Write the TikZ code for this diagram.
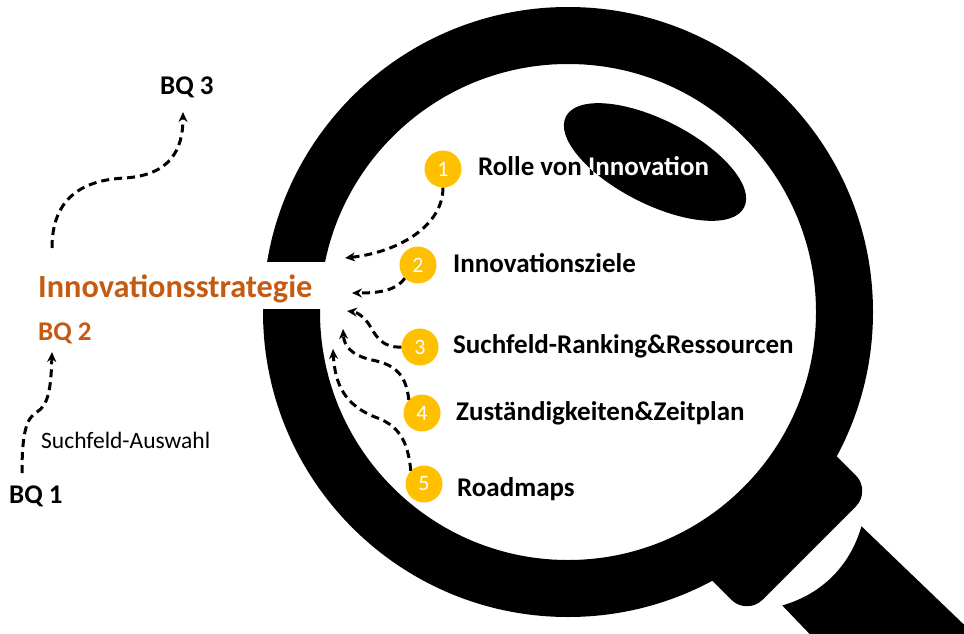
\documentclass[tikz,border=0pt]{standalone}
\usepackage{fontspec}
\setmainfont{Carlito}
\usetikzlibrary{arrows.meta}
\definecolor{accent}{HTML}{C55A11}
\definecolor{badge}{HTML}{FFC000}
\begin{document}
\begin{tikzpicture}[x=1pt,y=-1pt,
  flow/.style={draw=black, line width=3pt, dash pattern=on 8pt off 5pt,
    -{Stealth[length=10pt,width=9pt]}},
  num/.style={circle, fill=badge, minimum size=37pt, inner sep=0pt,
    text=white, font=\fontsize{22}{22}\selectfont},
  item/.style={anchor=base west, inner sep=0pt,
    font=\bfseries\fontsize{27}{27}\selectfont},
  side/.style={anchor=base west, inner sep=0pt,
    font=\fontsize{23.5}{23.5}\selectfont},
  title/.style={anchor=base west, inner sep=0pt, text=accent,
    font=\bfseries\fontsize{32.3}{32.3}\selectfont},
  lens/.style={rotate around={-27:(655,162)}}
]
\useasboundingbox (0,0) rectangle (964,634);
\clip (0,0) rectangle (964,634);

% magnifier ring
\fill[even odd rule] (568,312) circle[radius=305] (568,312) circle[radius=248];
% collar and handle
\begin{scope}[shift={(568,312)}, rotate=-45]
  \fill[rounded corners=22pt] (270,-88) -- (341,-88) -- (341,88) -- (270,88) -- cycle;
  \fill (359,-56) .. controls (379,-20) and (379,20) .. (359,56)
        -- (700,63) -- (700,-63) -- cycle;
\end{scope}
% opening for the title
\fill[white] (255,262) rectangle (336,309);
% glass highlight
\fill[lens] (655,162) ellipse [x radius=100, y radius=42];

% left side labels
\node[item] (bq3) at (160,94) {BQ 3};
\node[title] (strat) at (38,297) {Innovationsstrategie};
\node[item, text=accent] (bq2) at (38,340) {BQ 2};
\node[side] (auswahl) at (41,448) {Suchfeld-Auswahl};
\node[item] (bq1) at (9,503) {BQ 1};

\coordinate (s1) at (22,473);
\coordinate (t1) at (52,352);
\coordinate (s2) at (52,248);
\coordinate (t2) at (183,112);
\draw[flow] (s1) .. controls (22,430) and (27,418) .. (37,412)
            .. controls (48,405) and (51,390) .. (t1);
\draw[flow] (s2) .. controls (52,200) and (80,180) .. (125,178)
            .. controls (170,175) and (183,150) .. (t2);

% numbered items
\node[num] (c1) at (443,169) {1};
\node[num] (c2) at (418,265) {2};
\node[num] (c3) at (420,347) {3};
\node[num] (c4) at (422,413) {4};
\node[num] (c5) at (424,484) {5};

\node[item] (i1) at (478,175) {Rolle von Innovation};
\begin{scope}
  \clip[lens] (655,162) ellipse [x radius=100, y radius=42];
  \node[item, text=white] (i1w) at (478,175) {Rolle von Innovation};
\end{scope}
\node[item] (i2) at (453,272) {Innovationsziele};
\node[item] (i3) at (453,353) {Suchfeld-Ranking\&Ressourcen};
\node[item] (i4) at (456,420) {Zuständigkeiten\&Zeitplan};
\node[item] (i5) at (457,496) {Roadmaps};

% arrows into the lens opening
\coordinate (e1) at (345,258);
\coordinate (e2) at (352,293);
\coordinate (e3) at (347,311);
\coordinate (e4) at (343,329);
\coordinate (e5) at (333,349);
\draw[flow] (c1.south) .. controls (443,225) and (400,252) .. (e1);
\draw[flow] (c2.south west) .. controls (395,292) and (375,293) .. (e2);
\draw[flow] (c3.west) .. controls (382,348) and (376,336) .. (370,326)
            .. controls (364,316) and (356,312) .. (e3);
\draw[flow] (c4.north west) .. controls (406,372) and (392,364) .. (372,360)
            .. controls (350,355) and (344,345) .. (e4);
\draw[flow] (c5.north west) .. controls (408,440) and (398,425) .. (375,417)
            .. controls (345,405) and (335,385) .. (e5);
\end{tikzpicture}
\end{document}
